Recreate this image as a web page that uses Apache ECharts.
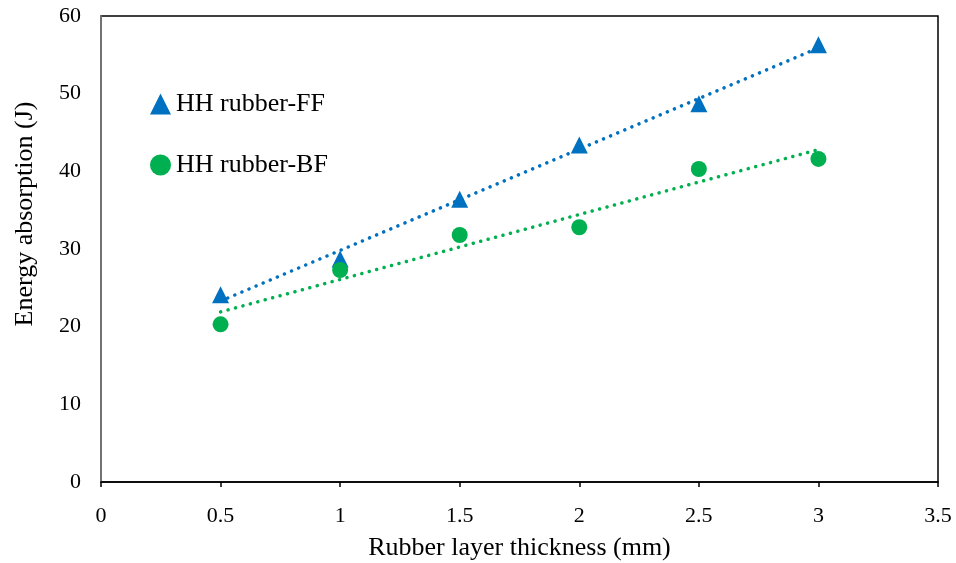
<!DOCTYPE html>
<html>
<head>
<meta charset="utf-8">
<script src="https://cdn.jsdelivr.net/npm/echarts@6/dist/echarts.min.js"></script>
<style>
  html, body { margin: 0; padding: 0; background: #fff; }
  #chart { width: 956px; height: 563px; }
</style>
</head>
<body>
<div id="chart"></div>
<script>
const thickness = [0.5, 1, 1.5, 2, 2.5, 3];
const ffEnergy = [24.1, 28.7, 36.4, 43.4, 48.7, 56.3];
const bfEnergy = [20.3, 27.3, 31.8, 32.8, 40.3, 41.6];

// Trendline end points (x, y) as drawn on the chart.
const trendX = [0.5, 3];
const ffTrend = [23.3, 55.9];
const bfTrend = [21.9, 42.8];

const BLUE = "#0070C0";
const GREEN = "#00B050";
const FONT = "Liberation Serif";

let pairs = (xs, ys) => xs.map((x, i) => [x, ys[i]]);

let dotted = (color) => ({
  color: color,
  width: 3.5,
  type: [0.1, 7.6],
  cap: "round",
});

const chart = echarts.init(document.getElementById("chart"));

chart.setOption({
  animation: false,
  backgroundColor: "#fff",
  textStyle: { fontFamily: FONT },
  grid: {
    left: 101, right: 18, top: 16, bottom: 81,
    containLabel: false,
    outerBoundsMode: "none",
    show: true, borderColor: "#000", borderWidth: 1.5,
  },
  legend: {
    data: ["HH rubber-FF", "HH rubber-BF"],
    orient: "vertical",
    left: 150,
    top: 91,
    padding: 0,
    itemGap: 35,
    itemWidth: 21,
    itemHeight: 21,
    textStyle: { fontFamily: FONT, fontSize: 26, color: "#000" },
  },
  xAxis: {
    type: "value",
    min: 0,
    max: 3.5,
    interval: 0.5,
    name: "Rubber layer thickness (mm)",
    nameLocation: "middle",
    nameGap: 53,
    nameTextStyle: { fontFamily: FONT, fontSize: 26, color: "#000" },
    axisLine: { show: true, lineStyle: { color: "#000", width: 1.5 } },
    axisTick: { show: true, length: 5, lineStyle: { color: "#000", width: 1.5 } },
    axisLabel: { fontFamily: FONT, fontSize: 22, color: "#000", margin: 23 },
    splitLine: { show: false },
  },
  yAxis: {
    type: "value",
    min: 0,
    max: 60,
    interval: 10,
    name: "Energy absorption (J)",
    nameLocation: "middle",
    nameGap: 63,
    // title sits above the plot's centre in the original
    nameTextStyle: { fontFamily: FONT, fontSize: 26, color: "#000", padding: [0, 0, 0, 70] },
    axisLine: { show: true, lineStyle: { color: "#868686", width: 1.5 } },
    axisTick: { show: false },
    axisLabel: { fontFamily: FONT, fontSize: 22, color: "#000", margin: 20 },
    splitLine: { show: false },
  },
  series: [
    {
      name: "FF trend",
      type: "line",
      data: pairs(trendX, ffTrend),
      symbol: "none",
      lineStyle: dotted(BLUE),
      z: 1,
    },
    {
      name: "BF trend",
      type: "line",
      data: pairs(trendX, bfTrend),
      symbol: "none",
      lineStyle: dotted(GREEN),
      z: 1,
    },
    {
      name: "HH rubber-FF",
      type: "scatter",
      data: pairs(thickness, ffEnergy),
      symbol: "triangle",
      symbolSize: 17,
      itemStyle: { color: BLUE, opacity: 1 },
      z: 3,
    },
    {
      name: "HH rubber-BF",
      type: "scatter",
      data: pairs(thickness, bfEnergy),
      symbol: "circle",
      symbolSize: 16,
      itemStyle: { color: GREEN, opacity: 1 },
      z: 3,
    },
  ],
});
</script>
</body>
</html>
